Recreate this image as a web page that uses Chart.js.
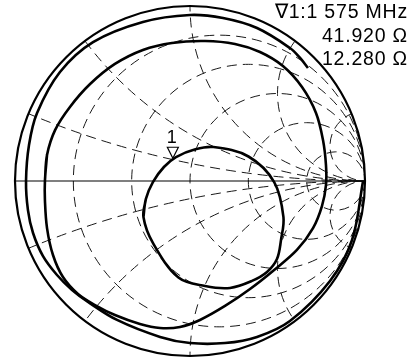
<!DOCTYPE html>
<html>
<head>
<meta charset="utf-8">
<script src="https://cdn.jsdelivr.net/npm/chart.js@4.4.1/dist/chart.umd.min.js"></script>
<style>
  html, body { margin: 0; padding: 0; background: #fff; }
  #wrap { position: relative; width: 411px; height: 358px; }
</style>
</head>
<body>
<div id="wrap"><canvas id="smith" width="411" height="358"></canvas></div>
<script>
// Smith chart grid values (normalised resistance / reactance)
const rCircles = [0.2, 0.5, 1, 2, 5];
const xArcs = [0.2, 0.5, 1, 2, 5];

// Marker readout
const markerLabel = '1';
const markerFreq = '\u22071:1 575 MHz';
const markerR = '41.920 \u03A9';
const markerX = '12.280 \u03A9';
const markerGamma = { re: -0.098, im: 0.130 };

// Trace, read off the picture as reflection coefficient (re, im)
// outer sweep (near the rim)
const rimRe = [0.674, 0.629, 0.571, 0.383, 0.189, 0.000, -0.269, -0.554, -0.743, -0.874, -0.920, -0.937, -0.926, -0.897, -0.840, -0.760, -0.674, -0.583, -0.417, -0.171, 0.000, 0.200, 0.383, 0.571, 0.800, 0.926, 0.989];
const rimIm = [0.646, 0.703, 0.760, 0.874, 0.931, 0.949, 0.909, 0.794, 0.623, 0.389, 0.206, 0.000, -0.166, -0.297, -0.429, -0.537, -0.623, -0.691, -0.794, -0.891, -0.926, -0.926, -0.891, -0.800, -0.571, -0.337, 0.000];
// big loop
const loopRe = [-0.829, -0.817, -0.771, -0.686, -0.571, -0.429, -0.269, -0.103, 0.086, 0.257, 0.400, 0.531, 0.640, 0.720, 0.760, 0.777, 0.777, 0.754, 0.703, 0.611, 0.474, 0.343, 0.200, 0.057, -0.057, -0.171, -0.286, -0.429, -0.543, -0.640, -0.726, -0.783, -0.817, -0.829, -0.829, -0.817];
const loopIm = [0.000, 0.149, 0.291, 0.423, 0.554, 0.669, 0.749, 0.789, 0.800, 0.783, 0.737, 0.657, 0.537, 0.389, 0.234, 0.091, -0.023, -0.143, -0.269, -0.394, -0.514, -0.617, -0.714, -0.794, -0.834, -0.840, -0.817, -0.766, -0.709, -0.646, -0.549, -0.423, -0.269, -0.109, 0.000, 0.149];
// small loop (resonance)
const resRe = [-0.266, -0.252, -0.212, -0.149, -0.080, 0.031, 0.134, 0.334, 0.481, 0.534, 0.520, 0.497, 0.440, 0.354, 0.229, 0.086, -0.066, -0.212, -0.266, -0.252];
const resIm = [-0.206, -0.102, -0.006, 0.080, 0.137, 0.181, 0.194, 0.140, -0.006, -0.206, -0.337, -0.446, -0.520, -0.571, -0.611, -0.600, -0.552, -0.354, -0.206, -0.102];

const toPoints = (re, im) => re.map((v, i) => ({ x: v, y: im[i] }));

const traceStyle = {
  showLine: true,
  borderColor: '#000',
  borderWidth: 2.6,
  pointRadius: 0,
  tension: 0.35,
  fill: false,
};

// draws the grid, the rim and the real axis from the scales
const smithGrid = {
  id: 'smithGrid',
  beforeDatasetsDraw(chart) {
    const { ctx } = chart;
    const xs = chart.scales.x, ys = chart.scales.y;
    const px = v => xs.getPixelForValue(v);
    const py = v => ys.getPixelForValue(v);
    const cx = px(0), cy = py(0);
    const R = px(1) - px(0);

    ctx.save();
    ctx.beginPath();
    ctx.arc(cx, cy, R, 0, Math.PI * 2);
    ctx.clip();
    ctx.strokeStyle = '#1a1a1a';
    ctx.lineWidth = 1;
    ctx.setLineDash([10, 6]);
    rCircles.forEach(r => {
      ctx.beginPath();
      ctx.arc(px(r / (1 + r)), cy, px(1 / (1 + r)) - px(0), 0, Math.PI * 2);
      ctx.stroke();
    });
    xArcs.forEach(x => {
      [x, -x].forEach(s => {
        ctx.beginPath();
        ctx.arc(px(1), py(1 / s), px(1 / Math.abs(s)) - px(0), 0, Math.PI * 2);
        ctx.stroke();
      });
    });
    ctx.restore();

    ctx.save();
    ctx.strokeStyle = '#000';
    ctx.lineWidth = 1.2;
    ctx.beginPath();
    ctx.moveTo(px(-1), cy);
    ctx.lineTo(px(1), cy);
    ctx.stroke();
    ctx.lineWidth = 2.2;
    ctx.beginPath();
    ctx.arc(cx, cy, R, 0, Math.PI * 2);
    ctx.stroke();
    ctx.restore();
  },
  afterDatasetsDraw(chart) {
    const { ctx } = chart;
    const mx = chart.scales.x.getPixelForValue(markerGamma.re);
    const my = chart.scales.y.getPixelForValue(markerGamma.im);
    ctx.save();
    ctx.fillStyle = '#fff';
    ctx.strokeStyle = '#000';
    ctx.lineWidth = 1.2;
    ctx.beginPath();
    ctx.moveTo(mx, my);
    ctx.lineTo(mx - 5.5, my - 11);
    ctx.lineTo(mx + 5.5, my - 11);
    ctx.closePath();
    ctx.fill();
    ctx.stroke();
    ctx.fillStyle = '#000';
    ctx.font = '18px "Liberation Sans", Arial, sans-serif';
    ctx.textAlign = 'center';
    ctx.textBaseline = 'alphabetic';
    ctx.fillText(markerLabel, mx - 1, my - 15);

    ctx.font = '19.5px "Liberation Sans", Arial, sans-serif';
    ctx.letterSpacing = '0.8px';
    ctx.textAlign = 'right';
    ctx.fillText(markerFreq, 408, 18);
    ctx.fillText(markerR, 408, 42);
    ctx.fillText(markerX, 408, 65);
    ctx.restore();
  }
};

new Chart(document.getElementById('smith'), {
  type: 'scatter',
  data: {
    datasets: [
      { label: 'rim', data: toPoints(rimRe, rimIm), ...traceStyle },
      { label: 'loop', data: toPoints(loopRe, loopIm), ...traceStyle },
      { label: 'resonance', data: toPoints(resRe, resIm), ...traceStyle },
    ],
  },
  options: {
    responsive: false,
    devicePixelRatio: 1,
    animation: false,
    layout: { padding: { left: 15, right: 46, top: 6, bottom: 2 } },
    plugins: { legend: { display: false }, tooltip: { enabled: false } },
    scales: {
      x: { type: 'linear', min: -1, max: 1, display: false },
      y: { type: 'linear', min: -1, max: 1, display: false },
    },
  },
  plugins: [smithGrid],
});
</script>
</body>
</html>
